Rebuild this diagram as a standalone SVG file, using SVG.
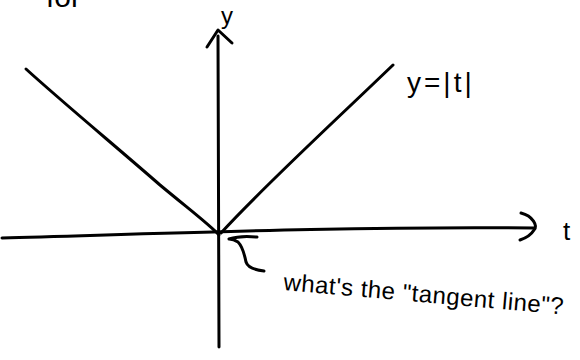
<svg xmlns="http://www.w3.org/2000/svg" width="580" height="360" viewBox="0 0 580 360">
<style>
.ink{fill:none;stroke:#000;stroke-width:3;stroke-linecap:round;stroke-linejoin:round}
.hand{font-family:"Liberation Sans",Arial,sans-serif;fill:#000}
</style>
<rect width="580" height="360" fill="#fff"/>
<text class="hand" x="46" y="7" font-size="30">for</text>
<g id="connectors">
<path id="y-axis" class="ink" d="M219,347 C219,250 218,150 218,36"/>
<path id="y-arrowhead" class="ink" d="M207,47 L218,30 L232,43"/>
<path id="t-axis" class="ink" d="M2,238 C150,234 350,226 534,228"/>
<path id="t-arrowhead" class="ink" d="M521,213 C533,216 538,226 534,230 C531,235 526,238 520,240"/>
<path id="left-branch" class="ink" d="M26,69 C60,100 120,150 160,185 C190,210 210,225 219,235"/>
<path id="right-branch" class="ink" d="M221,233 C260,190 320,135 393,65"/>
<path id="pointer" class="ink" d="M264,271 C255,270 248,268 246,262 C244,252 242,246 238,242 C235,240 231,239 229,239 M229,239 C238,236 248,236 257,237"/>
</g>
<g id="label-y"><text class="hand" x="221" y="24" font-size="24">y</text></g>
<g id="label-t"><text class="hand" x="563" y="240" font-size="26">t</text></g>
<g id="label-fn"><text class="hand" x="407" y="92" font-size="28" letter-spacing="3">y=|t|</text></g>
<g id="label-question"><text class="hand" x="283" y="290" font-size="24" letter-spacing="0.5" transform="rotate(5 283 290)">what's the "tangent line"?</text></g>
</svg>
